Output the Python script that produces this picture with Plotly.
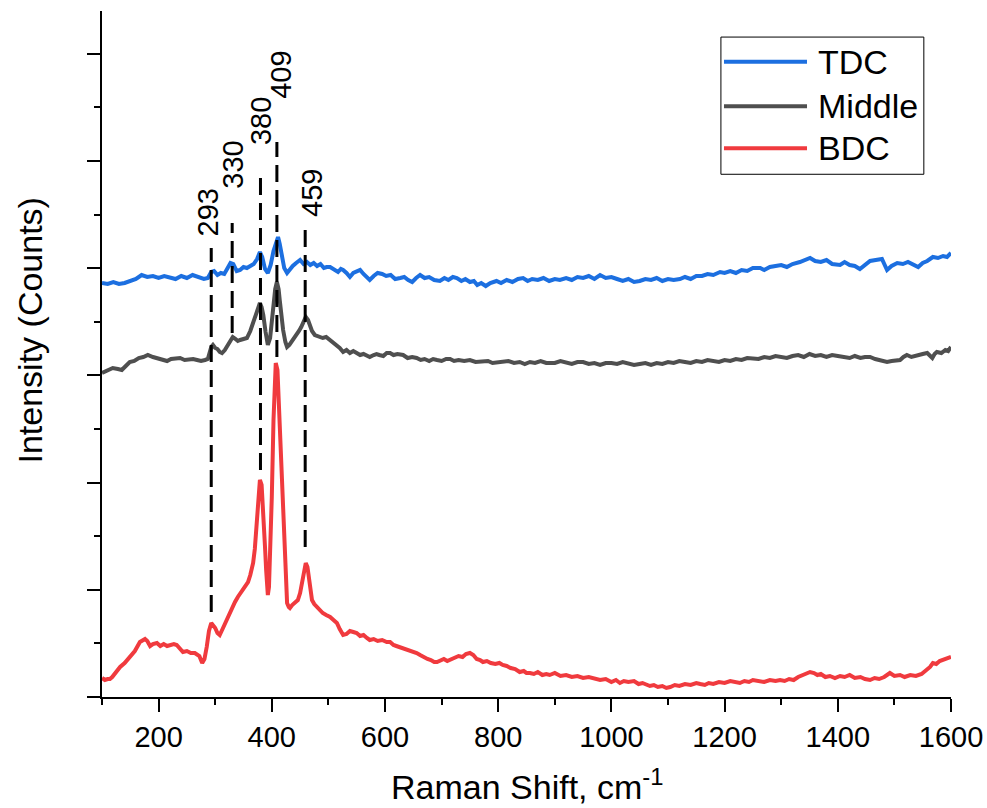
import plotly.graph_objects as go

# Raman spectra: Raman shift (cm-1) and intensity (arbitrary counts, stacked with offsets)
tdc_shift = [100, 110, 120, 130, 140, 150, 160, 170, 180, 190, 200, 210, 220, 230, 240, 250, 260, 270, 280,
             287, 293, 298, 304, 310, 316, 322, 327, 332, 338, 344, 350, 356, 362, 368, 374, 379, 383, 388,
             393, 398, 403, 408, 411, 414, 418, 422, 427, 432, 437, 443, 450, 456, 462, 468, 474, 480, 486,
             492, 497, 503, 510, 517, 522, 526, 532, 538, 544, 550, 556, 562, 568, 573, 580, 587, 595, 602,
             610, 618, 627, 634, 641, 648, 655, 662, 670, 678, 687, 697, 705, 712, 720, 727, 735, 742, 750,
             757, 763, 770, 778, 786, 797, 805, 815, 825, 835, 844, 852, 860, 870, 880, 890, 900, 909, 920,
             930, 940, 950, 960, 970, 980, 990, 1000, 1010, 1020, 1030, 1040, 1050, 1060, 1070, 1080, 1090,
             1100, 1110, 1121, 1130, 1140, 1150, 1160, 1170, 1180, 1192, 1200, 1210, 1220, 1230, 1240, 1250,
             1263, 1270, 1280, 1290, 1300, 1310, 1320, 1333, 1342, 1351, 1360, 1370, 1380, 1390, 1404, 1412,
             1421, 1430, 1439, 1448, 1457, 1467, 1478, 1487, 1495, 1505, 1515, 1524, 1533, 1542, 1550, 1558,
             1568, 1577, 1586, 1593, 1600]
tdc_counts = [414, 413, 415, 413, 414, 416, 418, 422, 420, 421, 419, 421, 420, 418, 421, 419, 422, 420, 418,
              419, 425, 426, 422, 424, 423, 429, 434, 433, 426, 427, 430, 429, 431, 433, 438, 445, 440, 428,
              424, 432, 446, 457, 460, 453, 440, 429, 424, 428, 431, 434, 437, 433, 435, 432, 434, 431, 433,
              429, 430, 430, 427, 425, 428, 427, 424, 420, 424, 425, 427, 423, 420, 417, 421, 424, 423, 421,
              422, 418, 419, 420, 417, 415, 419, 422, 419, 420, 417, 416, 419, 417, 420, 419, 416, 418, 415,
              416, 412, 414, 411, 414, 416, 414, 417, 415, 418, 419, 416, 418, 417, 419, 416, 418, 417, 419,
              417, 420, 419, 421, 418, 422, 419, 420, 418, 416, 418, 415, 416, 418, 417, 419, 416,
              418, 417, 418, 420, 418, 421, 421, 423, 422, 425, 424, 426, 424, 427, 426, 429,
              429, 427, 430, 431, 432, 430, 433, 435, 437, 439, 436, 435, 437, 433, 432, 435,
              432, 431, 428, 432, 436, 437, 438, 427, 431, 434, 433, 435, 432, 430, 434, 436,
              440, 439, 441, 440, 444]

middle_shift = [100, 110, 119, 128, 135, 142, 149, 157, 165, 173, 181, 190, 198, 206, 215, 222, 230, 238, 246,
                254, 261, 268, 275, 282, 287, 293, 296, 300, 304, 308, 312, 317, 322, 327, 331, 336, 340, 344,
                350, 356, 362, 367, 373, 376, 379, 382, 385, 389, 393, 397, 400, 403, 406, 409, 412, 414, 417,
                420, 424, 427, 431, 435, 440, 444, 448, 452, 456, 460, 464, 467, 471, 476, 482, 490, 496, 503,
                510, 515, 520, 526, 532, 538, 544, 550, 556, 562, 568, 573, 580, 585, 590, 597, 603, 609, 615,
                622, 632, 640, 648, 656, 663, 670, 678, 685, 692, 700, 708, 715, 722, 730, 740, 750, 760, 773,
                782, 790, 800, 808, 818, 828, 838, 847, 856, 865, 875, 885, 900, 910, 920, 930, 940, 950, 960,
                970, 980, 990, 1000, 1010, 1020, 1030, 1040, 1050, 1060, 1070, 1080, 1090, 1100, 1110, 1120,
                1130, 1140, 1150, 1160, 1170, 1180, 1190, 1200, 1210, 1220, 1230, 1240, 1250, 1260, 1270, 1280,
                1290, 1300, 1310, 1320, 1330, 1340, 1350, 1360, 1370, 1380, 1390, 1400, 1410, 1421, 1430, 1440,
                1448, 1457, 1466, 1475, 1487, 1495, 1503, 1510, 1516, 1522, 1530, 1540, 1550, 1558, 1563, 1567,
                1571, 1575, 1583, 1590, 1595, 1600]
middle_counts = [324, 327, 329, 328, 327, 331, 335, 336, 339, 340, 342, 340, 339, 337, 336, 338, 339, 339, 337,
                 338, 338, 337, 336, 337, 338, 350, 352, 349, 348, 345, 344, 347, 352, 357, 360, 358, 356, 357,
                 358, 359, 366, 375, 385, 390, 394, 390, 382, 365, 352, 359, 375, 397, 408, 415, 408, 397, 380,
                 367, 355, 350, 352, 355, 359, 362, 366, 370, 376, 380, 377, 372, 366, 362, 361, 359, 360, 357,
                 354, 351, 349, 345, 347, 344, 346, 344, 342, 343, 341, 340, 342, 343, 342, 341, 344, 344, 342,
                 343, 342, 339, 340, 339, 337, 338, 336, 338, 337, 336, 338, 338, 336, 337, 336, 337, 335, 335,
                 336, 334, 335, 335, 336, 334, 335, 333, 335, 334, 336, 334, 334, 336, 334, 333, 335, 335, 333,
                 334, 332, 334, 334, 333, 335, 333, 332, 333, 334, 332, 334, 333, 335, 334, 336,
                 335, 334, 336, 335, 337, 336, 335, 337, 336, 338, 337, 339, 339, 338, 340, 339,
                 341, 340, 339, 341, 342, 340, 343, 341, 342, 340, 342, 341, 340, 339, 341, 339,
                 340, 340, 338, 337, 335, 336, 337, 337, 340, 342, 340, 341, 343, 344, 341, 339,
                 343, 345, 344, 347, 346, 350]

bdc_shift = [100, 105, 110, 114, 118, 125, 132, 140, 150, 158, 167, 172, 176, 180, 185, 190, 197, 203, 209,
             215, 222, 227, 232, 238, 243, 250, 257, 264, 268, 272, 277, 281, 285, 289, 293, 296, 300, 304,
             308, 313, 320, 325, 330, 335, 340, 345, 349, 354, 358, 362, 367, 370, 373, 376, 379, 382, 385,
             388, 390, 393, 395, 398, 400, 403, 405, 407, 410, 412, 414, 416, 418, 420, 423, 425, 427, 430,
             432, 436, 441, 446, 450, 453, 457, 460, 463, 466, 468, 471, 475, 480, 485, 490, 496, 503, 509,
             515, 520, 526, 532, 538, 544, 550, 556, 562, 568, 573, 580, 587, 595, 603, 609, 615, 620, 626,
             632, 638, 644, 650, 656, 662, 668, 675, 681, 687, 692, 698, 704, 710, 715, 722, 730, 737, 743,
             750, 756, 762, 768, 773, 780, 787, 795, 802, 808, 815, 822, 830, 838, 845, 850, 856, 863, 870,
             878, 885, 891, 900, 910, 920, 930, 940, 950, 960, 970, 980, 990, 1000, 1008, 1015, 1022, 1030,
             1040, 1048, 1055, 1062, 1068, 1075, 1082, 1090, 1097, 1104, 1112, 1120, 1130, 1140, 1150, 1157,
             1165, 1172, 1180, 1190, 1200, 1210, 1218, 1227, 1235, 1243, 1250, 1260, 1270, 1280, 1290, 1298,
             1306, 1314, 1322, 1330, 1338, 1345, 1351, 1358, 1364, 1370, 1378, 1386, 1395, 1404, 1412, 1421,
             1430, 1440, 1448, 1457, 1465, 1473, 1482, 1492, 1500, 1510, 1518, 1528, 1538, 1548, 1558, 1563,
             1568, 1574, 1580, 1586, 1593, 1600]
bdc_counts = [19, 17, 18, 18, 20, 25, 30, 34, 40, 46, 55, 57, 58, 56, 51, 53, 54, 51, 53,
              51, 52, 53, 52, 48, 45, 46, 44, 44, 42, 41, 34, 38, 50, 66, 74, 72, 69, 64,
              62, 68, 77, 84, 90, 95, 100, 104, 107, 111, 115, 122, 134, 148, 170, 197, 217, 212, 187,
              150, 127, 102, 110, 157, 200, 277, 315, 334, 327, 300, 267, 240, 210, 175, 137, 110, 94, 90,
              89, 92, 94, 97, 104, 112, 127, 134, 130, 117, 105, 97, 93, 90, 87, 84, 82, 80, 77,
              74, 68, 62, 63, 66, 65, 64, 61, 62, 59, 57, 58, 56, 57, 55, 55, 52, 51, 50,
              49, 48, 46, 45, 44, 42, 40, 38, 37, 35, 35, 36, 38, 36, 37, 39, 41, 40, 43,
              44, 42, 38, 37, 35, 36, 34, 33, 34, 32, 31, 29, 28, 25, 26, 24, 24, 23, 25,
              22, 23, 22, 24, 21, 22, 20, 21, 19, 20, 18, 17, 18, 15, 17, 14, 16, 15,
              16, 13, 14, 12, 11, 12, 10, 11, 9, 10, 12, 11, 13, 12, 14, 13,
              12, 14, 13, 15, 14, 16, 15, 14, 16, 15, 17, 16, 15, 17, 16, 17,
              16, 18, 17, 20, 22, 24, 25, 24, 22, 23, 20, 21, 19, 21, 20, 22,
              19, 20, 18, 17, 19, 18, 20, 24, 21, 22, 20, 22, 21, 23, 27, 30,
              34, 33, 36, 37, 38, 40]

# Assigned bands: position, extent of the marker line, label position
band_pos = [293, 330, 380, 409, 459]
band_top = [449, 474, 522, 555, 470]
band_bottom = [85, 364, 227, 340, 150]
band_label_x = [288, 331, 381, 416, 471]
band_label_y = [485, 532, 576, 622, 504]

series = [("TDC", tdc_shift, tdc_counts, "#1C6FE0"),
          ("Middle", middle_shift, middle_counts, "#4F4F4F"),
          ("BDC", bdc_shift, bdc_counts, "#F03A3E")]

FONT = "Arial, Liberation Sans, sans-serif"

fig = go.Figure()
for name, xs, ys, col in series:
    fig.add_trace(go.Scatter(x=xs, y=ys, mode="lines", name=name,
                             line=dict(color=col, width=4), showlegend=False))

for pos, top, bot, lx, ly in zip(band_pos, band_top, band_bottom, band_label_x, band_label_y):
    fig.add_shape(type="line", x0=pos, x1=pos, y0=bot, y1=top, xref="x", yref="y",
                  line=dict(color="black", width=3, dash="17px,8px"))
    fig.add_annotation(x=lx, y=ly, xref="x", yref="y", text=str(pos), textangle=-90,
                       showarrow=False, font=dict(family=FONT, size=29, color="black"),
                       xanchor="center", yanchor="middle")

# Boxed key in the upper right
fig.add_shape(type="rect", xref="paper", yref="paper", x0=0.729, x1=0.968, y0=0.762, y1=0.962,
              line=dict(color="black", width=1), fillcolor="white", layer="above")
leg_y = [0.926, 0.861, 0.800]
for (name, _, _, col), yy in zip(series, leg_y):
    fig.add_shape(type="line", xref="paper", yref="paper", x0=0.7326, x1=0.8304, y0=yy, y1=yy,
                  line=dict(color=col, width=4), layer="above")
    fig.add_annotation(x=0.841, y=yy, xref="paper", yref="paper", text=name, showarrow=False,
                       xanchor="left", yanchor="middle",
                       font=dict(family=FONT, size=34, color="black"))

# Axis titles
fig.add_annotation(x=0.5, y=-0.128, xref="paper", yref="paper", text="Raman Shift, cm<sup>-1</sup>",
                   showarrow=False, xanchor="center", yanchor="middle",
                   font=dict(family=FONT, size=34, color="black"))
fig.add_annotation(x=-0.085, y=0.534, xref="paper", yref="paper", text="Intensity (Counts)",
                   textangle=-90, showarrow=False, xanchor="center", yanchor="middle",
                   font=dict(family=FONT, size=34, color="black"))

y_range = [0, 686]
x_range = [100, 1600]

common = dict(showgrid=False, zeroline=False, automargin=False, showline=True,
              linewidth=2, linecolor="black", tickcolor="black", tickwidth=2)

fig.update_layout(
    template="none",
    width=987, height=808,
    margin=dict(l=102, r=36, t=11, b=111, pad=0),
    paper_bgcolor="white", plot_bgcolor="white",
    font=dict(family=FONT, color="black"),
    xaxis=dict(range=x_range, tick0=0, dtick=200, ticks="outside", ticklen=13,
               tickfont=dict(size=29, family=FONT, color="black"),
               minor=dict(ticks="outside", dtick=100, tick0=0, ticklen=6, tickwidth=2,
                          tickcolor="black", showgrid=False), **common),
    xaxis2=dict(range=x_range, overlaying="x", side="top", anchor="y", tick0=0, dtick=200,
                ticks="inside", ticklen=12, showticklabels=False,
                minor=dict(ticks="inside", dtick=100, tick0=0, ticklen=6, tickwidth=2,
                           tickcolor="black", showgrid=False), **common),
    yaxis=dict(range=y_range, tick0=0, dtick=107.2, ticks="outside", ticklen=13,
               showticklabels=False,
               minor=dict(ticks="outside", dtick=53.6, tick0=0, ticklen=6, tickwidth=2,
                          tickcolor="black", showgrid=False), **common),
    yaxis2=dict(range=y_range, overlaying="y", side="right", anchor="x", tick0=0, dtick=107.2,
                ticks="inside", ticklen=13, showticklabels=False,
                minor=dict(ticks="inside", dtick=53.6, tick0=0, ticklen=6, tickwidth=2,
                           tickcolor="black", showgrid=False), **common),
)

fig.write_html("out.html")
